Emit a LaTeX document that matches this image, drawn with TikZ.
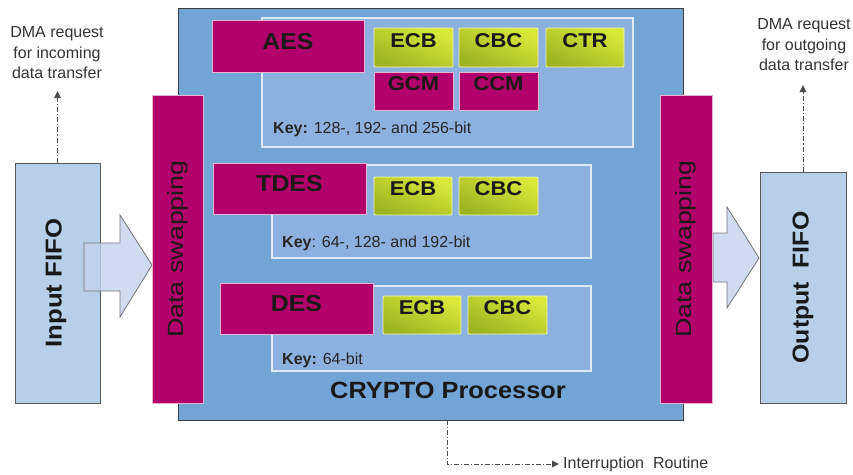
\documentclass[tikz,border=0pt]{standalone}
\usepackage{fontspec}
\usepackage{graphicx}
\setmainfont{Liberation Sans}
\usetikzlibrary{fit,arrows.meta}
\definecolor{mainblue}{RGB}{114,164,214}
\definecolor{grpblue}{RGB}{141,177,222}
\definecolor{grpborder}{RGB}{222,234,248}
\definecolor{magc}{RGB}{178,0,106}
\definecolor{fifoc}{RGB}{183,207,232}
\definecolor{arrowc}{RGB}{196,210,238}
\definecolor{greentop}{RGB}{218,232,58}
\definecolor{greenbot}{RGB}{156,180,32}
\newcommand\hs[2][1.1]{\scalebox{#1}[1]{#2}}
\begin{document}
\begin{tikzpicture}[x=1pt,y=-1pt,
  bxx/.style={inner sep=0pt, outer sep=0pt},
  mainbox/.style={bxx, fill=mainblue, draw=black!75, line width=1pt},
  grp/.style={bxx, fill=grpblue, draw=grpborder, line width=1.2pt},
  algo/.style={bxx, fill=magc, draw=white!70!magc, line width=0.8pt},
  modebox/.style={bxx, top color=greentop, bottom color=greenbot, shading angle=-25, draw=white!65!greentop, line width=0.8pt, rounded corners=1pt},
  fifo/.style={bxx, fill=fifoc, draw=black!65, line width=1pt},
  swap/.style={bxx, fill=magc, draw=white!70!magc, line width=0.6pt},
  bigarrow/.style={fill=arrowc, fill opacity=0.8, draw=black!55, line width=0.8pt, line join=miter},
  dashdot/.style={draw=black!70, line width=1pt, dash pattern=on 5pt off 2pt on 1.2pt off 2pt},
  tipend/.style={-{Triangle[length=7pt,width=6.5pt]}},
  algotxt/.style={inner sep=0pt, font=\fontsize{23}{26}\selectfont\bfseries, text=black!90},
  modetxt/.style={font=\fontsize{20}{22}\selectfont\bfseries, text=black!90},
  keytxt/.style={inner sep=0pt, anchor=west, font=\fontsize{16}{18}\selectfont, text=black!85},
  smalltxt/.style={inner sep=0pt, font=\fontsize{16}{20.5}\selectfont, align=center, text=black!80},
  swaptxt/.style={inner sep=0pt, rotate=90, font=\fontsize{22}{24}\selectfont, text=black!90},
  fifotxt/.style={inner sep=0pt, rotate=90, font=\fontsize{23}{26}\selectfont\bfseries, text=black!90},
]
\useasboundingbox (0,0) rectangle (853,474);

% main processor
\node[mainbox, fit={(178,8) (683,420)}] (crypto) {};

% groups
\node[grp, fit={(262,18) (633,147)}] (gaes) {};
\node[grp, fit={(272,165) (591,258)}] (gtdes) {};
\node[grp, fit={(272,286) (591,371)}] (gdes) {};

% algorithm boxes
\node[algo, fit={(212,20) (364,72)}] (aes) {};
\node[algotxt] (aest) at ([yshift=4pt]aes.center) {\hs[1.08]{AES}};
\node[algo, fit={(213,163) (366,214)}] (tdes) {};
\node[algotxt] (tdest) at ([yshift=5pt]tdes.center) {\hs[1.08]{TDES}};
\node[algo, fit={(220,283) (373,334)}] (des) {};
\node[algotxt] (dest) at ([yshift=5pt]des.center) {\hs[1.08]{DES}};

% modes AES
\node[modebox, modetxt, fit={(374,28) (453,67)}] (aecb) {\hs[1.1]{ECB}};
\node[modebox, modetxt, fit={(459,28) (538,67)}] (acbc) {\hs[1.1]{CBC}};
\node[modebox, modetxt, fit={(546,28) (624,67)}] (actr) {\hs[1.1]{CTR}};
\node[algo, modetxt, fit={(374,72) (453,110)}] (agcm) {\hs[1.1]{GCM}};
\node[algo, modetxt, fit={(459,72) (538,110)}] (accm) {\hs[1.1]{CCM}};
% modes TDES
\node[modebox, modetxt, fit={(374,177) (452,215)}] (tecb) {\hs[1.1]{ECB}};
\node[modebox, modetxt, fit={(459,177) (538,215)}] (tcbc) {\hs[1.1]{CBC}};
% modes DES
\node[modebox, modetxt, fit={(383,296) (461,334)}] (decb) {\hs[1.1]{ECB}};
\node[modebox, modetxt, fit={(468,296) (547,334)}] (dcbc) {\hs[1.1]{CBC}};

% keys
\node[keytxt] (kaes) at (273,129) {\textbf{Key:} 128-, 192- and 256-bit};
\node[keytxt] (ktdes) at (282,243) {\textbf{Key}: 64-, 128- and 192-bit};
\node[keytxt] (kdes) at (282,360) {\textbf{Key:} 64-bit};

% title
\node[inner sep=0pt, font=\fontsize{23.5}{26}\selectfont\bfseries, text=black!90] (ctitle) at (448,390) {\hs[1.08]{CRYPTO Processor}};

% FIFOs
\node[fifo, fit={(15,163) (100,403)}] (ififo) {};
\node[fifotxt] (ififot) at ([xshift=-1.5pt]ififo.center) {\hs[1.12]{Input FIFO}};
\node[fifo, fit={(760,172) (846,403)}] (ofifo) {};
\node[fifotxt] (ofifot) at (ofifo.center) {\hs[1.08]{Output\ \ FIFO}};

% block arrows
\draw[bigarrow] (84,243) -- (120,243) -- (120,215) -- (152,265) -- (120,317) -- (120,291) -- (84,291) -- cycle;
\draw[bigarrow] (713,233) -- (727,233) -- (727,207) -- (759,258) -- (727,308) -- (727,282) -- (713,282) -- cycle;

% data swapping bars
\node[swap, fit={(152,95) (203,403)}] (swl) {};
\node[swaptxt] (swlt) at (swl.center) {\hs[1.22]{Data swapping}};
\node[swap, fit={(660,95) (712,403)}] (swr) {};
\node[swaptxt] (swrt) at (swr.center) {\hs[1.22]{Data swapping}};

% DMA requests
\node[smalltxt] (dmain) at (57,53) {DMA request\\for incoming\\data transfer};
\coordinate (inreq) at (57.5,91);
\draw[dashdot, tipend] (ififo.north) -- (inreq);
\node[smalltxt] (dmaout) at (804,45) {DMA request\\for outgoing\\data transfer};
\coordinate (outreq) at (803,85);
\draw[dashdot, tipend] (ofifo.north) -- (outreq);

% interruption
\node[smalltxt, anchor=west] (intr) at (563,464) {Interruption\ \ Routine};
\draw[dashdot, tipend, shorten >=4pt] ([xshift=16.5pt]crypto.south) |- (intr.west);
\end{tikzpicture}
\end{document}
